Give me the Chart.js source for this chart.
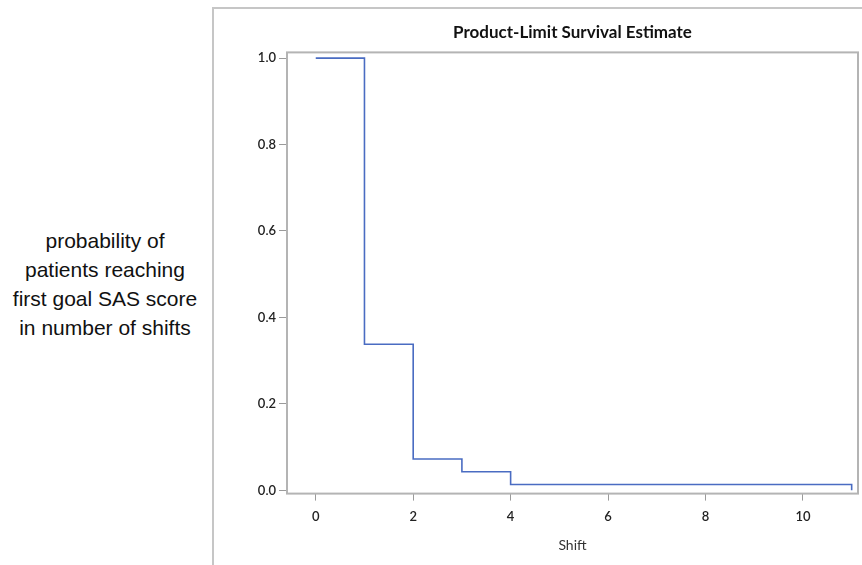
<!DOCTYPE html>
<html>
<head>
<meta charset="utf-8">
<script src="https://cdn.jsdelivr.net/npm/chart.js@4.4.1/dist/chart.umd.min.js"></script>
<style>
  html, body { margin: 0; padding: 0; background: #fff; }
  #wrap { position: relative; width: 862px; height: 565px; overflow: hidden; }
  #frame { position: absolute; left: 212px; top: 7px; width: 660px; height: 570px;
           border-top: 2px solid #c6c6c6; border-left: 2px solid #c6c6c6; box-sizing: border-box; }
  #side { position: absolute; left: 0; width: 210px; top: 226px; text-align: center;
          font-family: "Liberation Sans", Arial, sans-serif; font-size: 21px; line-height: 29px; color: #111; }
  canvas { position: absolute; left: 0; top: 0; }
</style>
</head>
<body>
<div id="wrap">
  <div id="frame"></div>
  <div id="side">probability of<br>patients reaching<br>first goal SAS score<br>in number of shifts</div>
  <canvas id="c" width="862" height="565"></canvas>
</div>
<script>
const shiftTimes = [0, 1, 2, 3, 4, 11];
const survival = [1.0, 0.338, 0.0725, 0.043, 0.0135, 0.0];
const xTicks = [0, 2, 4, 6, 8, 10];
const yTicks = [0.0, 0.2, 0.4, 0.6, 0.8, 1.0];
const chartTitle = "Product-Limit Survival Estimate";
const xTitle = "Shift";

const points = shiftTimes.map((t, i) => ({ x: t, y: survival[i] }));

const frameBox = {
  id: 'frameBox',
  afterDraw(chart) {
    const a = chart.chartArea, ctx = chart.ctx;
    ctx.save();
    ctx.strokeStyle = '#b4b4b4';
    ctx.lineWidth = 2;
    ctx.strokeRect(a.left, a.top, a.right - a.left, a.bottom - a.top);
    ctx.restore();
  }
};

new Chart(document.getElementById('c'), {
  type: 'line',
  data: {
    datasets: [{
      data: points,
      stepped: true,
      borderColor: '#4a6cc2',
      borderWidth: 1.6,
      pointRadius: 0,
      fill: false
    }]
  },
  options: {
    responsive: false,
    animation: false,
    layout: { padding: { left: 0, right: 4, top: 0, bottom: 7 } },
    plugins: {
      legend: { display: false },
      tooltip: { enabled: false },
      title: {
        display: true,
        text: chartTitle,
        fullSize: false,
        color: '#111',
        font: { family: 'Lato', size: 17, weight: 'bold' },
        padding: { top: 22, bottom: 10 }
      }
    },
    scales: {
      x: {
        type: 'linear',
        min: -0.59,
        max: 11.13,
        afterBuildTicks: s => { s.ticks = xTicks.map(v => ({ value: v })); },
        grid: { drawOnChartArea: false, drawTicks: true, tickLength: 7, color: '#9a9a9a' },
        border: { display: false },
        ticks: { color: '#222', font: { family: 'Lato', size: 13, weight: '600' }, padding: 8, maxRotation: 0 },
        title: { display: true, text: xTitle, color: '#333', font: { family: 'Lato', size: 14 }, padding: { top: 5, bottom: 4 } }
      },
      y: {
        type: 'linear',
        min: -0.0076,
        max: 1.0132,
        afterBuildTicks: s => { s.ticks = yTicks.map(v => ({ value: v })); },
        afterFit: s => { s.width = 287; },
        grid: { drawOnChartArea: false, drawTicks: true, tickLength: 8, color: '#9a9a9a' },
        border: { display: false },
        ticks: { color: '#222', font: { family: 'Lato', size: 13, weight: '600' }, padding: 3, callback: v => v.toFixed(1) }
      }
    }
  },
  plugins: [frameBox]
});
</script>
</body>
</html>
